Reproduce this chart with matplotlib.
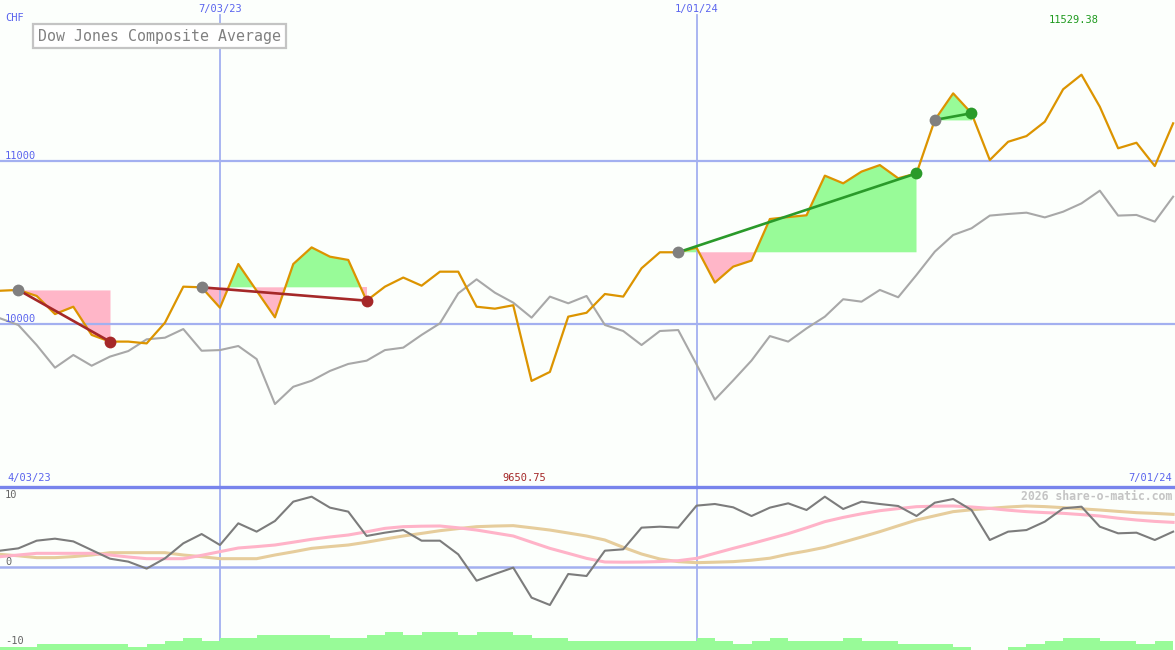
import numpy as np
from matplotlib import pyplot as plt
from matplotlib.transforms import blended_transform_factory

# weekly closes, 4/03/23 .. 7/01/24
price = [10204, 10209, 10172, 10061, 10106, 9933, 9892, 9892, 9881, 10008,
         10229, 10225, 10100, 10368, 10204, 10041, 10368, 10470, 10413, 10393,
         10143, 10229, 10285, 10235, 10321, 10321, 10106, 10094, 10115, 9650.75,
         9706, 10045, 10069, 10184, 10168, 10342, 10440, 10440, 10468, 10254,
         10352, 10389, 10644, 10656, 10667, 10910, 10863, 10935, 10975, 10894,
         10924, 11252, 11415, 11293, 11006, 11118, 11153, 11241, 11440, 11529.38,
         11333, 11078, 11112, 10969, 11231]

# comparison line (grey) in upper panel
compare = [10035, 9994, 9871, 9732, 9810, 9744, 9800, 9834, 9906, 9916,
           9969, 9836, 9840, 9865, 9785, 9509, 9615, 9652, 9712, 9755,
           9775, 9840, 9855, 9933, 10004, 10188, 10274, 10192, 10131, 10039,
           10168, 10127, 10172, 9994, 9957, 9871, 9957, 9963, 9752, 9536,
           9654, 9776, 9926, 9892, 9973, 10045, 10152, 10137, 10209, 10164,
           10301, 10444, 10546, 10587, 10665, 10675, 10683, 10654, 10689, 10740,
           10818, 10665, 10669, 10628, 10781]

# lower panel
momentum = [2.04, 2.33, 3.29, 3.54, 3.2, 2.12, 1.04, 0.67, -0.2, 1.08,
            2.96, 4.12, 2.75, 5.46, 4.42, 5.75, 8.17, 8.79, 7.42, 6.92,
            3.88, 4.29, 4.62, 3.29, 3.29, 1.58, -1.71, -0.875, -0.08, -3.83,
            -4.75, -0.875, -1.125, 2.04, 2.21, 4.92, 5.04, 4.92, 7.67, 7.875,
            7.46, 6.375, 7.42, 7.96, 7.125, 8.79, 7.25, 8.17, 7.875, 7.625,
            6.375, 8.04, 8.5, 7.125, 3.375, 4.42, 4.62, 5.67, 7.33, 7.54,
            5.04, 4.21, 4.29, 3.375, 4.42]
avg_fast = [1.29, 1.5, 1.71, 1.71, 1.71, 1.71, 1.5, 1.25, 1.04, 1.04,
            1.04, 1.46, 1.92, 2.375, 2.55, 2.75, 3.1, 3.46, 3.75, 4.0,
            4.4, 4.83, 5.04, 5.1, 5.125, 4.9, 4.62, 4.25, 3.875, 3.1,
            2.33, 1.71, 1.08, 0.625, 0.6, 0.62, 0.68, 0.79, 1.08, 1.71,
            2.33, 2.92, 3.54, 4.17, 4.9, 5.67, 6.2, 6.65, 7.04, 7.3,
            7.54, 7.6, 7.625, 7.5, 7.33, 7.1, 6.92, 6.8, 6.71, 6.55,
            6.375, 6.1, 5.875, 5.7, 5.58]
avg_slow = [1.58, 1.4, 1.17, 1.17, 1.3, 1.5, 1.79, 1.79, 1.79, 1.79,
            1.5, 1.29, 1.04, 1.04, 1.04, 1.5, 1.9, 2.33, 2.55, 2.75,
            3.1, 3.5, 3.875, 4.2, 4.54, 4.8, 5.04, 5.12, 5.17, 4.9,
            4.62, 4.25, 3.875, 3.375, 2.46, 1.625, 1.0, 0.67, 0.54, 0.6,
            0.67, 0.85, 1.1, 1.6, 2.0, 2.46, 3.1, 3.75, 4.42, 5.15,
            5.875, 6.4, 6.92, 7.15, 7.33, 7.5, 7.625, 7.55, 7.42, 7.27,
            7.125, 6.95, 6.79, 6.7, 6.58]
# volume blocks at the bottom (one per week)
volume = [1, 1, 2, 2, 2, 2, 2, 1, 2, 3, 4, 3, 4, 4, 5, 5, 5, 5, 4, 4,
          5, 6, 5, 6, 6, 5, 6, 6, 5, 4, 4, 3, 3, 3, 3, 3, 3, 3, 4, 3,
          2, 3, 4, 3, 3, 3, 4, 3, 3, 2, 2, 2, 1, 0, 0, 1, 2, 3, 4, 4,
          3, 3, 2, 3]

# trade signals: start week, end week
sig_start = [1, 11, 37, 51]
sig_end = [6, 20, 50, 53]
sig_color = ['#a52828', '#a52828', '#2a9a2a', '#2a9a2a']

date_ticks = [12, 38]
date_labels = ['7/03/23', '1/01/24']
first_date = '4/03/23'
last_date = '7/01/24'

bg = '#fcfffc'
grid_c = '#a3b0f0'
text_c = '#5a64ee'
pink = '#ffb6c8'
green = '#98fb98'
mono = 'DejaVu Sans Mono'

W, H = 1175, 650
top_h = 487
px_week = 18.33

x = np.arange(len(price))
price = np.array(price)

fig = plt.figure(figsize=(W / 100, H / 100), dpi=100, facecolor=bg)
ax = fig.add_axes([0, (H - top_h) / H, 1, top_h / H], facecolor=bg)
ax2 = fig.add_axes([0, 0, 1, (H - top_h) / H], facecolor=bg)
for a in (ax, ax2):
    a.set_xlim(0, W / px_week)
    a.set_axis_off()
ax.set_ylim(9000, 9000 + top_h / 163 * 1000)
ax2.set_ylim(10 - (H - top_h) / 8, 10)

# grid
for v in [10000, 11000]:
    ax.axhline(v, color=grid_c, lw=1.6, zorder=2)
for d in date_ticks:
    ax.axvline(d, ymax=(top_h - 15) / top_h, color=grid_c, lw=1.3, zorder=2)
    ax2.axvline(d, color=grid_c, lw=1.3, zorder=1)
ax2.axhline(0, color=grid_c, lw=1.8, zorder=2)
ax2.axhline(10, color='#7884ec', lw=2.4, zorder=2, clip_on=False)

# signal fills and trend lines
for s, e, c in zip(sig_start, sig_end, sig_color):
    xs = x[s:e + 1]
    ys = price[s:e + 1]
    base = price[s]
    ax.fill_between(xs, base, ys, where=ys >= base, interpolate=True,
                    color=green, lw=0, zorder=1)
    ax.fill_between(xs, base, ys, where=ys <= base, interpolate=True,
                    color=pink, lw=0, zorder=1)
    ax.plot([s, e], [price[s], price[e]], color=c, lw=1.9, zorder=4)
    ax.plot(s, price[s], 'o', color='#808080', ms=8.5, mew=0, zorder=5)
    ax.plot(e, price[e], 'o', color=c, ms=8.5, mew=0, zorder=5)

ax.plot(x, compare, color='#a8a8a8', lw=1.5, zorder=3)
ax.plot(x, price, color='#dc9400', lw=1.6, zorder=3)

ax2.bar(np.arange(len(volume)) + 0.5, np.array(volume) * 0.375, width=1.0,
        bottom=10 - (H - top_h) / 8, color=green, lw=0, zorder=3)
ax2.plot(x, avg_slow, color='#e6cd9c', lw=2.2, zorder=4)
ax2.plot(x, avg_fast, color='#ffb3c8', lw=2.2, zorder=4)
ax2.plot(x, momentum, color='#7c7c7c', lw=1.5, zorder=5)

# texts
tr = blended_transform_factory(ax.transData, ax.transAxes)
for d, lab in zip(date_ticks, date_labels):
    ax.text(d, 1 - 9 / top_h, lab, transform=tr, ha='center', va='center',
            color=text_c, fontsize=7.5, family=mono)
ax.text(5 / W * ax.get_xlim()[1], 11000, '11000', ha='left', va='bottom',
        color=text_c, fontsize=7.5, family=mono)
ax.text(5 / W * ax.get_xlim()[1], 10000, '10000', ha='left', va='bottom',
        color=text_c, fontsize=7.5, family=mono)
imax = int(np.argmax(price))
imin = int(np.argmin(price))
ax.text(imax - 0.45, 1 - 20 / top_h, '%.2f' % price[imax], transform=tr,
        ha='center', va='center', color='#1e9a1e', fontsize=7.5, family=mono)

fig.text(5 / W, 1 - 18 / H, 'CHF', color=text_c, fontsize=7.5, family=mono,
         va='center')
fig.text(38 / W, 1 - 36 / H, 'Dow Jones Composite Average', color='#808080',
         fontsize=10.7, family=mono, va='center',
         bbox=dict(boxstyle='square,pad=0.32', fc='white', ec='#c4c4c4', lw=1.6))

tr2 = blended_transform_factory(ax2.transData, fig.transFigure)
fig.text(7 / W, 1 - 478 / H, first_date, color=text_c, fontsize=7.5,
         family=mono, va='center')
fig.text(1172 / W, 1 - 478 / H, last_date, color=text_c, fontsize=7.5,
         family=mono, va='center', ha='right')
ax2.text(imin - 0.4, 1 - 478 / H, '%.2f' % price[imin], transform=tr2,
         ha='center', va='center', color='#a52828', fontsize=7.5, family=mono)
fig.text(5 / W, 1 - 495 / H, '10', color='#666666', fontsize=7.5,
         family=mono, va='center')
fig.text(5 / W, 1 - 562 / H, '0', color='#666666', fontsize=7.5,
         family=mono, va='center')
fig.text(5 / W, 1 - 641 / H, '-10', color='#666666', fontsize=7.5,
         family=mono, va='center')
fig.text(1172 / W, 1 - 496 / H, '2026 share-o-matic.com', color='#c4c4c4',
         fontsize=8.3, family=mono, weight='bold', va='center', ha='right')

fig.savefig('out.png', dpi=100, facecolor=bg)
